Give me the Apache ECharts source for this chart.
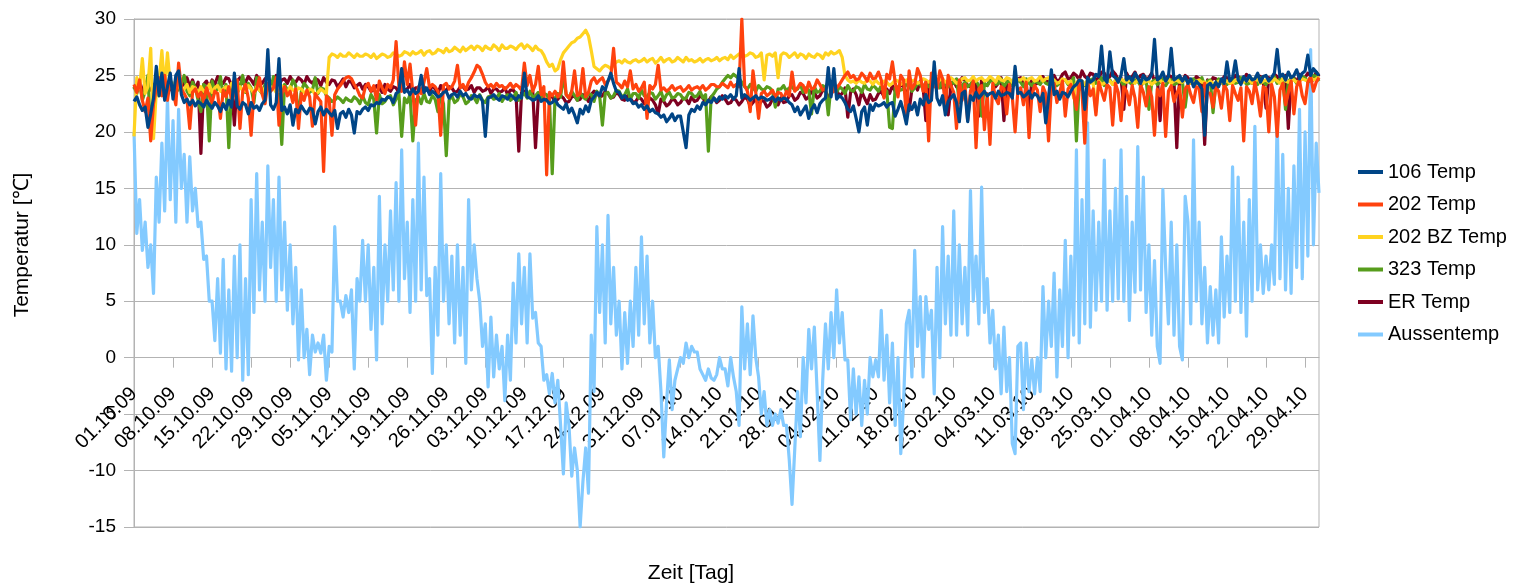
<!DOCTYPE html>
<html>
<head>
<meta charset="utf-8">
<script src="https://cdn.jsdelivr.net/npm/echarts@6/dist/echarts.min.js"></script>
<style>
  html, body { margin: 0; padding: 0; background: #fff; }
  #chart { width: 1530px; height: 588px; }
</style>
</head>
<body>
<div id="chart"></div>
<script>
// Room and outdoor temperatures, two readings per day from 01.10.2009 to 01.05.2010.

// Weekly date labels along the time axis
const tickLabels = [
  '01.10.09','08.10.09','15.10.09','22.10.09','29.10.09','05.11.09','12.11.09','19.11.09',
  '26.11.09','03.12.09','10.12.09','17.12.09','24.12.09','31.12.09','07.01.10','14.01.10',
  '21.01.10','28.01.10','04.02.10','11.02.10','18.02.10','25.02.10','04.03.10','11.03.10',
  '18.03.10','25.03.10','01.04.10','08.04.10','15.04.10','22.04.10','29.04.10'
];
const samplesPerDay = 2;
const daysPerTick = 7;

const seriesNames = ['106 Temp', '202 Temp', '202 BZ Temp', '323 Temp', 'ER Temp', 'Aussentemp'];

// 106 Temp
const temp106 = [
  22.7,23.1, 22.4,21.9, 22.2,20.4, 21.6,23.0, 25.8,23.2, 25.2,22.8, 24.0,25.2, 22.9,25.0, 25.4,23.3, 22.6,22.9,
  22.4,22.8, 22.3,22.7, 22.5,22.2, 22.8,22.4, 22.1,22.6, 22.3,21.8, 22.5,22.0, 22.8,22.2, 25.2,22.3, 22.0,22.6,
  22.4,21.6, 22.6,22.1, 22.3,21.9, 22.5,22.8, 27.3,22.4, 22.0,22.6, 26.5,21.9, 22.2,21.6, 22.4,20.6, 22.0,21.7,
  22.3,21.9, 21.6,22.1, 22.0,20.7, 21.8,22.2, 21.5,22.0, 21.7,21.4, 21.9,20.3, 21.6,21.8, 21.3,22.0, 21.5,19.9,
  21.8,21.6, 22.0,22.2, 21.9,22.4, 22.3,22.6, 22.5,22.9, 22.8,23.1, 23.0,22.6, 23.4,23.6, 25.6,23.5, 23.7,23.3,
  23.8,23.4, 23.6,25.0, 23.5,23.9, 23.3,23.6, 23.4,23.1, 23.2,23.5, 23.6,23.0, 23.3,23.4, 23.1,23.6, 23.2,23.4,
  23.0,22.9, 23.3,23.1, 23.2,22.7, 19.6,23.0, 23.1,23.3, 23.0,22.8, 23.2,23.1, 22.9,23.3, 23.1,22.8, 23.2,23.0,
  25.2,23.1, 23.0,22.8, 22.9,23.2, 22.7,22.9, 22.8,22.5, 22.6,22.9, 22.4,22.2, 22.0,22.5, 21.7,22.1, 21.5,20.8,
  22.0,21.6, 22.3,21.8, 22.8,23.1, 23.5,23.2, 24.0,23.7, 24.5,25.2, 24.3,23.6, 23.5,23.0, 23.2,22.8, 22.9,22.5,
  22.6,22.2, 22.4,22.0, 22.3,21.8, 22.0,21.7, 21.6,21.3, 21.5,20.9, 21.2,21.6, 21.0,21.4, 21.4,20.0, 18.6,21.5,
  22.0,21.8, 22.3,22.0, 22.6,22.4, 22.8,22.6, 23.0,22.7, 23.1,22.9, 23.2,23.0, 23.3,22.9, 23.2,25.6, 23.0,23.3,
  23.1,22.8, 23.0,23.2, 22.9,23.1, 23.0,22.8, 22.9,23.1, 22.7,23.0, 22.8,23.0, 22.9,22.6, 22.4,21.8, 22.2,21.5,
  21.9,22.3, 21.2,22.0, 22.4,21.7, 22.5,22.8, 23.0,25.7, 23.1,25.6, 22.9,23.2, 23.0,22.6, 22.0,21.8, 22.3,21.2,
  20.0,21.8, 22.2,20.6, 22.4,21.9, 22.5,22.3, 22.4,22.6, 22.2,22.5, 22.6,21.4, 22.0,22.7, 21.8,20.7, 22.4,22.0,
  22.6,21.5, 22.9,22.4, 23.3,22.6, 22.8,26.2, 23.0,22.4, 23.2,21.5, 22.7,23.0, 23.3,22.6, 20.9,23.4, 23.6,20.9,
  23.2,22.8, 23.5,23.0, 23.3,23.6, 23.2,23.4, 23.5,23.0, 23.6,23.2, 23.3,23.5, 23.4,23.0, 25.8,23.4, 23.5,23.1,
  23.3,23.6, 23.0,23.4, 23.2,22.7, 23.4,20.8, 23.0,25.5, 23.3,23.6, 22.9,23.5, 23.4,23.1, 23.6,24.0, 24.2,24.6,
  24.5,22.0, 24.8,24.4, 24.6,25.1, 24.9,27.6, 24.7,24.4, 27.1,25.0, 24.8,24.4, 25.0,26.5, 24.6,24.9, 24.5,25.2,
  24.8,24.3, 25.0,24.6, 24.7,25.1, 28.2,24.6, 24.8,25.3, 24.5,24.9, 27.4,24.6, 24.8,25.0, 24.5,24.9, 24.3,24.7,
  24.0,24.5, 24.2,23.8, 19.7,24.1, 24.3,23.9, 24.4,24.0, 24.7,24.3, 26.2,24.5, 24.8,26.3, 24.6,24.2, 24.9,24.5,
  25.0,24.6, 24.7,25.2, 24.4,24.9, 25.0,24.5, 24.8,25.2, 27.3,24.9, 25.1,24.6, 25.3,24.8, 25.0,25.5, 24.7,25.2,
  25.4,26.8, 25.0,25.6, 25.3,25.0
];

// 202 Temp
const temp202 = [
  24.2,23.5, 24.6,22.8, 21.8,23.0, 19.2,22.5, 23.8,24.8, 23.2,25.0, 22.8,24.5, 23.6,22.4, 26.1,23.8, 23.4,22.9,
  20.3,23.5, 23.8,23.1, 23.5,22.7, 23.9,23.2, 22.6,23.6, 23.4,21.2, 23.7,23.1, 24.0,22.9, 23.3,24.6, 20.3,23.6,
  24.2,23.0, 19.7,23.5, 23.8,24.8, 23.3,22.5, 24.3,23.6, 23.9,24.8, 20.6,23.4, 24.0,23.2, 23.6,22.6, 23.8,20.3,
  23.4,22.8, 23.7,23.1, 20.5,23.4, 23.0,22.7, 16.5,23.2, 22.9,19.7, 23.3,23.8, 24.1,24.5, 24.8,24.9, 24.7,24.2,
  23.8,23.2, 23.0,24.0, 24.3,23.6, 24.1,22.8, 24.5,23.9, 23.4,24.2, 23.9,24.6, 28.0,24.0, 23.6,26.2, 24.2,26.0,
  23.5,20.6, 24.0,23.4, 24.4,25.6, 23.9,24.2, 24.0,23.6, 19.7,24.1, 24.3,23.8, 24.0,24.5, 25.9,23.9, 24.2,23.7,
  24.4,24.8, 25.3,25.9, 25.7,25.1, 24.4,24.0, 24.2,23.9, 24.3,24.0, 24.1,23.8, 24.0,24.3, 23.9,24.2, 24.0,23.7,
  26.1,24.1, 25.0,23.6, 24.2,25.8, 23.3,24.0, 16.2,23.5, 23.2,23.6, 23.1,23.5, 26.2,23.3, 23.0,23.6, 25.4,23.2,
  23.4,25.6, 23.1,23.5, 24.5,24.8, 24.3,24.6, 24.8,24.2, 24.5,24.9, 27.4,24.4, 24.2,23.9, 24.5,24.0, 25.4,23.8,
  24.2,23.6, 23.9,24.4, 21.2,24.1, 23.8,24.2, 25.9,23.7, 23.9,23.6, 23.8,24.1, 23.7,23.9, 24.0,23.6, 23.8,24.1,
  23.7,23.9, 24.0,23.8, 24.1,23.7, 23.9,24.2, 24.2,24.0, 24.0,24.3, 24.1,23.9, 24.4,24.0, 24.2,24.0, 30.0,24.1,
  23.6,21.8, 25.4,23.5, 21.2,23.4, 23.6,23.2, 23.4,23.7, 23.1,23.5, 23.4,22.9, 23.6,23.2, 25.3,23.6, 23.9,24.3,
  24.1,23.5, 24.4,23.8, 23.9,24.6, 24.2,23.7, 23.8,24.5, 24.1,23.6, 23.9,24.2, 24.6,25.0, 25.3,24.8, 25.0,24.6,
  24.7,25.2, 24.9,24.5, 25.2,24.7, 24.8,25.3, 24.6,23.0, 25.1,24.7, 26.2,24.4, 23.1,25.0, 24.6,21.5, 25.4,23.8,
  24.2,25.6, 25.0,23.6, 24.4,19.2, 25.2,24.1, 23.8,25.4, 24.7,22.3, 25.0,24.1, 23.5,20.3, 24.6,22.8, 24.2,21.0,
  23.6,24.5, 18.6,23.8, 24.1,20.2, 23.4,18.9, 24.3,23.0, 22.5,24.0, 23.8,21.6, 24.2,23.1, 20.0,23.7, 23.9,22.4,
  24.4,19.5, 23.2,24.1, 23.7,21.8, 24.0,23.4, 19.2,23.9, 24.3,22.6, 23.5,24.5, 21.4,23.8, 24.2,23.3, 22.0,24.6,
  23.6,19.0, 24.5,23.2, 23.8,21.5, 24.4,23.6, 22.8,24.2, 23.9,20.6, 24.3,23.5, 21.0,24.0, 23.6,22.4, 24.1,23.0,
  20.4,24.2, 23.5,22.3, 24.0,23.1, 19.7,23.8, 23.2,24.3, 19.6,23.6, 24.1,22.7, 23.4,24.0, 21.3,23.8, 24.2,23.3,
  22.6,24.0, 23.9,21.8, 24.3,23.5, 23.4,22.2, 24.0,23.6, 22.1,24.2, 23.7,21.0, 24.1,23.4, 22.8,23.9, 19.2,24.0,
  23.6,22.5, 24.4,23.2, 21.4,24.0, 23.8,20.0, 24.2,23.1, 19.6,23.7, 24.3,22.4, 23.5,24.5, 21.6,24.0, 24.6,23.2,
  22.5,24.4, 24.9,23.6, 24.4,24.8
];

// 202 BZ Temp
const temp202bz = [
  19.6,24.8, 23.8,26.5, 23.4,24.0, 27.4,19.4, 23.6,24.5, 27.2,23.8, 27.0,24.2, 23.9,24.6, 24.1,23.6, 23.8,24.2,
  23.5,24.0, 23.9,23.4, 24.0,23.6, 23.7,24.2, 23.5,23.9, 24.1,23.6, 23.8,24.0, 23.6,24.3, 23.9,23.5, 24.0,23.7,
  23.6,24.1, 23.8,23.4, 24.0,23.7, 23.5,23.9, 23.7,24.0, 23.9,23.5, 23.6,24.1, 23.8,23.5, 24.0,23.7, 23.6,23.9,
  23.8,23.5, 23.4,23.8, 23.7,23.3, 23.5,23.8, 23.6,23.4, 26.6,26.9, 26.8,26.6, 26.9,26.7, 26.7,27.0, 26.8,26.6,
  26.9,26.7, 26.7,26.9, 26.8,26.6, 26.9,26.5, 26.7,26.9, 26.8,26.6, 26.7,27.0, 26.9,26.7, 26.8,27.1, 27.0,26.8,
  27.1,26.9, 27.0,27.2, 26.8,27.1, 27.2,26.9, 27.0,27.3, 27.2,27.0, 27.4,27.1, 27.2,27.5, 27.3,27.1, 27.5,27.2,
  27.4,27.6, 27.3,27.6, 27.5,27.2, 27.6,27.4, 27.3,27.7, 27.5,27.2, 27.7,27.4, 27.4,27.6, 27.5,27.3, 27.6,27.8,
  27.4,27.7, 27.5,27.2, 27.6,27.3, 27.2,26.8, 26.2,25.8, 26.0,25.4, 25.6,26.4, 27.0,27.3, 27.6,27.9, 28.0,28.3,
  28.4,28.7, 29.0,28.5, 27.2,25.8, 25.6,25.4, 25.7,25.9, 25.8,25.6, 25.9,26.2, 26.3,26.1, 26.4,26.2, 26.1,26.3,
  26.4,26.2, 26.3,26.5, 26.2,26.4, 26.5,26.1, 26.3,26.6, 26.2,26.4, 26.5,26.2, 26.3,26.6, 26.4,26.2, 26.6,26.3,
  26.4,26.2, 26.3,26.5, 26.2,26.4, 26.5,26.3, 26.4,26.6, 26.3,26.5, 26.6,26.4, 26.8,26.5, 26.7,26.9, 27.0,26.7,
  26.8,27.0, 26.9,26.6, 26.7,27.0, 24.6,26.8, 26.9,26.7, 27.0,24.8, 26.8,27.0, 26.9,26.6, 26.8,27.0, 26.6,26.9,
  26.8,26.5, 26.9,26.7, 26.6,26.9, 26.8,26.5, 27.0,26.8, 27.1,26.9, 27.0,27.2, 26.6,25.0, 24.6,24.4, 24.5,24.3,
  24.6,24.4, 24.3,24.6, 24.5,24.2, 24.6,24.3, 24.2,24.5, 24.4,24.1, 24.3,24.6, 24.5,24.2, 24.4,24.6, 24.2,24.5,
  24.6,24.3, 24.4,24.7, 24.6,24.4, 24.5,24.8, 24.3,24.6, 24.7,24.4, 24.5,24.8, 24.6,24.3, 24.4,24.7, 24.8,24.5,
  24.6,24.9, 24.5,24.7, 24.8,24.5, 24.6,24.9, 24.7,24.4, 24.9,24.6, 24.5,24.8, 24.7,24.4, 24.9,24.6, 24.6,24.8,
  24.4,24.7, 24.8,24.5, 24.6,24.9, 24.5,24.7, 24.8,24.5, 24.6,24.3, 24.4,24.7, 24.6,24.3, 24.5,23.0, 24.4,24.6,
  24.5,24.2, 24.6,24.3, 24.4,21.8, 24.5,24.2, 24.3,24.6, 24.5,24.2, 24.6,24.4, 24.7,24.5, 24.4,24.6, 24.5,24.3,
  24.6,24.4, 24.3,24.5, 24.5,24.2, 24.4,24.6, 24.6,24.3, 24.5,24.7, 24.3,24.5, 24.6,24.4, 24.4,24.6, 24.5,24.3,
  24.3,24.5, 24.6,24.4, 24.4,24.2, 24.5,24.3, 24.2,24.5, 24.4,24.6, 24.5,24.3, 24.3,24.6, 24.5,24.4, 24.4,24.6,
  24.6,24.3, 24.5,24.7, 24.3,24.5, 24.6,24.4, 24.4,24.7, 24.5,24.3, 24.7,24.5, 24.4,24.6, 24.6,24.4, 24.5,24.7,
  24.6,24.5, 24.8,24.6, 24.7,24.9
];

// 323 Temp
const temp323 = [
  24.0,23.4, 24.4,22.8, 23.6,25.0, 19.7,23.8, 24.1,23.2, 25.0,23.9, 23.4,24.6, 24.0,23.5, 23.8,24.3, 25.0,23.6,
  23.2,24.4, 23.9,22.8, 21.8,24.2, 23.9,19.2, 24.5,23.6, 23.8,24.9, 23.2,24.2, 18.6,23.8, 24.6,23.4, 24.0,25.0,
  23.5,24.3, 23.9,22.6, 24.8,23.7, 23.4,24.2, 24.0,23.6, 24.9,23.8, 23.5,18.9, 24.2,23.7, 23.8,24.6, 24.1,21.2,
  23.6,24.3, 24.0,23.5, 23.7,24.8, 23.4,23.9, 23.8,23.2, 23.0,22.7, 22.8,23.1, 22.9,22.6, 23.0,22.8, 22.7,23.1,
  22.9,22.5, 23.2,22.6, 22.4,23.3, 22.9,19.9, 23.3,22.5, 22.7,23.1, 23.2,22.4, 22.9,23.4, 19.6,23.0, 22.6,23.3,
  19.2,22.8, 23.1,22.5, 23.4,22.7, 22.6,23.2, 22.9,21.8, 23.3,22.5, 17.9,22.8, 23.2,22.6, 22.8,23.4, 23.1,22.5,
  22.7,23.2, 23.0,22.6, 23.3,22.8, 22.6,23.1, 23.2,22.9, 23.0,23.4, 22.7,23.1, 23.3,22.8, 23.0,23.5, 22.8,23.2,
  23.4,23.0, 23.6,23.1, 23.2,23.5, 23.0,23.4, 23.3,22.9, 16.3,23.0, 23.4,23.1, 25.0,23.3, 23.0,23.6, 23.2,22.8,
  23.5,23.1, 22.9,23.4, 23.3,22.7, 23.6,23.2, 20.6,23.4, 23.5,23.0, 23.2,23.7, 23.6,23.1, 23.3,23.8, 22.9,23.4,
  23.4,23.0, 23.7,23.2, 23.1,23.5, 23.4,22.9, 23.2,23.6, 22.8,23.3, 23.5,23.0, 23.1,23.4, 23.3,22.9, 23.0,23.5,
  23.4,23.1, 23.2,23.6, 23.0,23.3, 18.3,23.1, 23.4,23.8, 24.0,24.4, 24.7,25.0, 24.8,25.1, 24.9,24.7, 24.4,24.0,
  23.8,24.2, 23.9,23.6, 24.1,23.8, 23.7,24.0, 23.9,23.6, 22.2,23.8, 23.8,24.1, 23.6,23.9, 24.0,23.7, 23.8,24.2,
  23.5,23.9, 23.7,21.6, 24.0,23.5, 23.6,24.1, 23.9,21.5, 24.2,23.8, 23.5,24.0, 23.8,23.4, 24.1,23.7, 23.6,24.0,
  23.9,23.5, 24.2,23.8, 23.7,24.1, 23.9,23.6, 24.1,23.8, 23.6,20.4, 20.3,23.9, 24.0,23.7, 23.8,24.2, 24.1,23.6,
  23.9,24.3, 24.2,23.8, 24.4,24.0, 24.1,24.5, 24.3,23.9, 24.6,24.2, 24.0,24.4, 24.3,24.7, 22.6,24.1, 24.4,24.0,
  24.2,24.6, 24.5,24.1, 21.4,24.3, 24.1,24.5, 24.6,24.2, 24.3,24.7, 24.0,24.4, 24.5,24.1, 24.2,24.6, 24.4,24.0,
  24.7,24.3, 24.1,24.5, 24.4,24.2, 24.6,24.3, 24.2,24.7, 24.5,24.1, 24.3,24.6, 24.6,24.2, 24.4,24.8, 19.2,24.3,
  24.5,24.1, 24.2,24.6, 24.7,24.3, 24.4,24.8, 24.1,24.5, 24.6,24.2, 24.3,24.7, 24.5,24.1, 24.8,24.4, 24.2,24.6,
  24.5,24.1, 24.3,24.7, 22.0,24.4, 24.6,24.2, 24.4,24.7, 24.1,24.5, 24.6,24.2, 24.3,24.7, 24.5,22.2, 24.2,24.6,
  24.7,24.3, 24.4,24.8, 24.1,24.5, 24.6,21.7, 24.3,24.7, 24.5,24.1, 24.2,24.6, 24.7,24.3, 24.4,24.8, 24.6,24.2,
  24.3,24.7, 24.5,24.2, 24.8,24.4, 24.2,24.6, 24.5,24.9, 24.3,24.7, 24.6,22.0, 24.4,24.8, 24.7,24.3, 24.5,24.9,
  24.8,24.4, 24.6,25.0, 24.9,24.5
];

// ER Temp
const tempER = [
  23.8,24.3, 24.0,23.6, 24.4,23.9, 23.7,24.2, 24.1,23.5, 23.9,24.4, 24.2,23.8, 23.6,24.1, 24.5,24.0, 24.3,24.8,
  24.0,24.6, 23.8,24.4, 18.1,24.2, 24.5,23.9, 24.6,24.2, 24.9,24.4, 24.3,24.8, 24.7,24.1, 20.6,24.5, 24.8,24.3,
  24.4,24.9, 24.6,24.2, 25.0,24.5, 24.3,24.7, 24.8,24.4, 24.5,25.0, 24.2,24.6, 24.7,24.3, 24.9,24.5, 24.4,24.8,
  24.6,24.2, 24.9,24.5, 24.3,24.7, 24.6,24.1, 24.8,24.4, 24.2,24.6, 24.5,24.0, 24.3,24.7, 24.0,24.5, 24.4,23.9,
  24.1,24.3, 23.8,24.2, 24.0,23.6, 23.7,24.1, 23.9,23.5, 24.2,23.8, 23.6,24.0, 23.9,23.5, 24.1,23.7, 23.8,24.2,
  23.5,23.9, 23.9,23.6, 24.0,23.7, 23.6,24.1, 23.8,23.4, 24.1,23.7, 23.7,24.0, 23.9,23.5, 23.6,24.0, 24.0,23.7,
  23.8,24.1, 23.5,23.9, 23.9,23.6, 23.7,24.0, 23.4,23.8, 23.8,23.5, 23.6,23.9, 23.3,23.7, 23.7,23.4, 18.3,23.5,
  23.6,23.2, 23.4,23.7, 18.6,23.1, 23.3,22.9, 22.8,23.2, 23.1,22.7, 22.9,23.2, 23.0,22.6, 22.7,23.1, 23.2,22.8,
  22.9,23.3, 23.1,22.7, 23.3,23.6, 23.5,23.1, 23.2,23.6, 23.4,23.0, 23.1,23.5, 23.3,22.9, 22.8,23.2, 23.0,22.6,
  22.7,23.1, 22.9,22.5, 22.6,23.0, 22.8,22.4, 21.6,22.9, 22.7,22.3, 22.5,22.9, 22.8,22.4, 22.6,23.0, 22.9,22.5,
  23.1,22.7, 22.8,23.2, 23.0,22.6, 22.7,23.1, 23.0,22.6, 22.8,23.2, 22.9,22.5, 22.6,23.0, 22.8,22.4, 22.7,23.1,
  22.9,22.3, 22.6,23.0, 22.3,22.8, 22.7,22.2, 22.4,22.9, 22.8,22.4, 23.0,22.6, 22.7,23.2, 23.3,22.8, 23.0,23.5,
  23.4,22.9, 23.1,23.6, 23.5,23.0, 23.2,23.7, 23.6,23.1, 23.3,23.8, 23.7,23.2, 23.4,23.9, 21.3,23.5, 23.8,23.3,
  22.4,23.6, 23.0,22.5, 23.3,22.8, 22.9,23.4, 23.6,23.1, 23.8,23.4, 24.1,23.6, 23.7,24.2, 24.0,23.5, 21.9,23.8,
  24.2,23.7, 24.5,24.0, 21.0,24.3, 24.6,24.1, 24.2,24.7, 23.9,24.4, 21.5,24.1, 24.5,24.0, 24.2,24.8, 24.6,24.1,
  24.0,24.5, 24.4,21.4, 24.7,24.2, 24.1,24.6, 24.5,24.0, 24.3,24.8, 21.0,24.4, 24.6,24.1, 24.2,24.7, 24.8,24.3,
  24.4,21.2, 24.7,24.2, 24.3,24.8, 24.9,24.5, 24.4,24.9, 25.0,24.5, 24.6,25.1, 25.3,24.7, 24.8,25.2, 25.0,24.6,
  25.4,24.9, 24.7,25.2, 25.1,24.6, 24.8,25.3, 25.2,24.7, 24.9,25.4, 25.1,24.6, 24.8,22.0, 25.2,24.7, 24.9,25.3,
  24.6,25.0, 25.1,24.7, 24.8,25.2, 24.5,24.9, 21.0,24.7, 24.6,25.0, 24.9,24.4, 18.6,24.8, 24.5,25.0, 24.8,24.3,
  24.4,24.9, 24.7,24.2, 18.9,24.6, 24.3,24.8, 24.7,24.2, 24.4,24.9, 24.8,24.3, 24.5,25.0, 24.9,24.4, 24.6,25.1,
  24.8,24.3, 24.5,25.0, 24.9,24.4, 22.1,24.8, 24.6,25.1, 24.9,24.5, 24.6,25.0, 20.3,24.7, 24.8,24.4, 25.1,24.7,
  24.8,25.2, 25.0,24.6, 25.3,24.9
];

// Aussentemp (outdoor)
const tempOutside = [
  20,11, 14,9.5, 12,8, 10,5.7, 16,12, 19,13, 23,14, 21,12, 22,15, 18,12,
  17.8,13, 15,11.6, 12,8.7, 9,5, 5,1.5, 7,0.4, 8.7,-1, 6,-1.2, 9,0, 10,-2,
  7,-1.5, 14,4, 16.3,6, 12,5, 17,8, 14,5, 16,6, 12,4.2, 10,3, 8,-0.2,
  6,0, 2.5,-1.5, 2,0.5, 1.3,0.4, 2,-2, 1,0.5, 11.6,5, 5,3.6, 5.5,4, 6,-1,
  7,5, 10.4,5, 10,2.5, 8,-0.2, 14.3,3, 10,5, 13,6, 15.5,5, 18.4,7, 12,4,
  14,5, 19,6, 16,5.5, 7,-1.4, 8,2, 16.3,5, 10,3, 9,1.3, 10,2, 8,-0.5,
  14,6, 10,7, 5,1, 3,-2.6, 3.6,-1.7, 2,-1, 1,-3.8, 2,-2, 6.6,1.3, 9.2,3,
  8,1.3, 9.2,3.5, 4,1.3, 1,-2, -1.5,-3.2, -1.4,-4, -2,-6, -10.3,-4, -6,-10.5, -8,-10,
  -15,-11, -8,-12, 2,-3, 11.6,4, 10,1.3, 12.6,3, 8,2, 5,-1, 4,-0.5, 5,1,
  8,2, 10.7,3, 9,1.3, 5,0, 1,-3, -8.8,-4, -0.2,-4.6, -2,-1, 0,-0.5, 1.3,0,
  1,0.5, 0.5,-1, -1.5,-2, -1,-1.8, -2,-1.5, 0,-1, -1,-2.5, 0,-1.7, -3,-6, 4.5,-1,
  3,-1.5, 3.7,0, -1.7,-5, -3,-6, -4.6,-6, -5,-5.8, -4.6,-6, -6,-9, -13,-8, -3,-7,
  0,-4, 2.5,-1, 2.7,-3, -9.1,-2, 3,-1, 4,0, 6,1.3, 4,-0.2, -0.2,-5.5, -1,-5,
  -1.7,-6, -2,-5, 0,-1.7, -0.2,-1.7, 4.2,-2, 2,-4, 1.3,-6, 0,-8.5, -4,3, 4.2,-1.7,
  9.5,1, 5.4,-1.7, 5.4,2.5, 4.2,-3.2, 8,0, 11.6,3, 9,2, 13,2, 10,3, 8,2,
  14.8,5, 9,3, 15.1,4, 7,1.3, 4.2,-1, 2,-3.2, 2.7,-3, 0,-7.6, -8.5,1, 1.3,-4.6,
  1.3,-3, -0.2,-3.2, 0,-3, 6.3,0, 5,1, 7.5,-1.7, 6,1, 10.4,0, 9,2, 18.4,1.3,
  14,3, 20.8,2.7, 13,4.2, 12,5, 17.5,4.2, 13,5, 15,5.2, 18.4,5, 14.3,3.3, 12,5.8,
  18.7,6, 16,4, 10,2, 8.6,1, -0.5,14.9, 8,3, 12,2, 10,1, -0.2,14.3, 12,3,
  19.3,5, 12,3, 8,1.3, 6.3,2, 6,1.3, 10.7,3.6, 9,4, 16.9,5, 16,4, 12,1.9,
  14,5, 20.5,6, 10,5.7, 9,6, 10,6.5, 21.4,7, 18,6, 15,5.7, 17,8, 22,7,
  20,9, 27.3,10, 19,14.6
];

const seriesData = [temp106, temp202, temp202bz, temp323, tempER, tempOutside];
const seriesColors = ['#004586', '#ff420e', '#ffd320', '#579d1c', '#7e0021', '#83caff'];

const sampleCount = tempOutside.length;
const categories = Array.from({ length: sampleCount }, (_, i) => String(i));
const samplesPerTick = samplesPerDay * daysPerTick;

const yMin = -15, yMax = 30, yStep = 5;
const gridBox = { left: 134, top: 19, width: 1185, height: 508 };
// the time axis runs along the 0 °C line, so shift it up from the bottom edge of the plot
const timeAxisOffset = -gridBox.height * (0 - yMin) / (yMax - yMin);

const font = '"Liberation Sans", Arial, sans-serif';
const gridColor = '#b3b3b3';

// Draw the outdoor curve first and 106 Temp last so that 106 sits on top
const drawOrder = [5, 4, 3, 2, 1, 0];
const series = drawOrder.map(k => ({
  name: seriesNames[k],
  type: 'line',
  data: seriesData[k],
  symbol: 'none',
  showSymbol: false,
  sampling: 'none',
  lineStyle: { width: 3.2, color: seriesColors[k], join: 'round' },
  itemStyle: { color: seriesColors[k] },
  emphasis: { disabled: true }
}));

const chart = echarts.init(document.getElementById('chart'), null, { renderer: 'canvas' });
chart.setOption({
  animation: false,
  backgroundColor: '#ffffff',
  grid: Object.assign({
    show: true, borderColor: gridColor, borderWidth: 1, backgroundColor: 'transparent',
    outerBoundsMode: 'none', containLabel: false
  }, gridBox),
  legend: {
    data: seriesNames.map(name => ({ name, icon: 'rect' })),
    orient: 'vertical',
    left: 1353, top: 157,
    itemWidth: 25, itemHeight: 4, itemGap: 12.5,
    textStyle: { fontFamily: font, fontSize: 20, color: '#000' },
    selectedMode: false
  },
  xAxis: {
    type: 'category',
    data: categories,
    boundaryGap: false,
    offset: timeAxisOffset,
    axisLine: { onZero: false, lineStyle: { color: gridColor, width: 1 } },
    axisTick: { show: true, interval: samplesPerTick - 1, length: 10, lineStyle: { color: gridColor } },
    axisLabel: {
      interval: samplesPerTick - 1,
      rotate: 45,
      margin: 33,
      fontFamily: font, fontSize: 20, color: '#000',
      formatter: (value, index) => (index % samplesPerTick === 0 ? (tickLabels[index / samplesPerTick] || '') : '')
    },
    splitLine: { show: false }
  },
  yAxis: {
    type: 'value',
    min: yMin, max: yMax, interval: yStep,
    axisLine: { show: true, lineStyle: { color: gridColor, width: 1 } },
    axisTick: { show: true, length: 10, lineStyle: { color: gridColor } },
    axisLabel: { margin: 18, fontFamily: font, fontSize: 19, color: '#000' },
    splitLine: { show: true, lineStyle: { color: gridColor, width: 1 } }
  },
  graphic: [
    {
      type: 'text', x: 22, y: 245, rotation: Math.PI / 2,
      style: { text: 'Temperatur [℃]', font: '21px ' + font, fill: '#000', align: 'center', verticalAlign: 'middle' }
    },
    {
      type: 'text', x: 691, y: 573,
      style: { text: 'Zeit [Tag]', font: '21px ' + font, fill: '#000', align: 'center', verticalAlign: 'middle' }
    }
  ],
  series: series
});
</script>
</body>
</html>
